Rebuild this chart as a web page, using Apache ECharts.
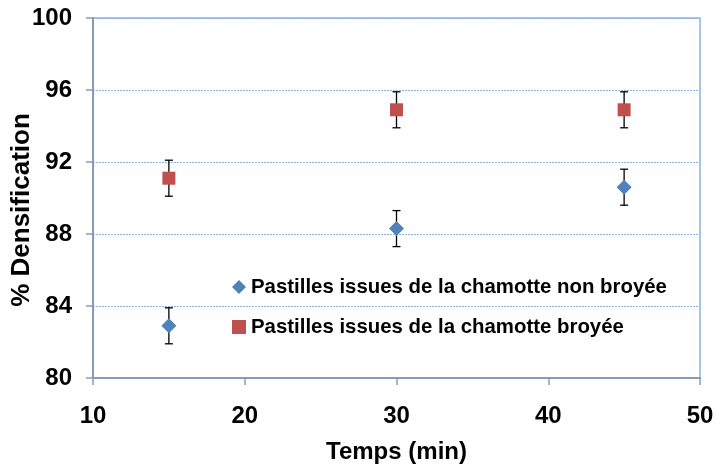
<!DOCTYPE html>
<html>
<head>
<meta charset="utf-8">
<script src="https://cdn.jsdelivr.net/npm/echarts@6/dist/echarts.min.js"></script>
<style>
  html, body { margin: 0; padding: 0; background: #fff; }
  #chart { width: 716px; height: 466px; }
</style>
</head>
<body>
<div id="chart"></div>
<script>
// temps de frittage (min)
var temps = [15, 30, 45];
// densification (%) et barres d'erreur
var nonBroyee = [82.9, 88.3, 90.6];
var nonBroyeeErr = [1.0, 1.0, 1.0];
var broyee = [91.1, 94.9, 94.9];
var broyeeErr = [1.0, 1.0, 1.0];

var serieNonBroyee = 'Pastilles issues de la chamotte non broyée';
var serieBroyee = 'Pastilles issues de la chamotte broyée';

function pairs(xs, ys) {
    return xs.map(function (x, i) { return [x, ys[i]]; });
}
function errData(xs, ys, errs) {
    return xs.map(function (x, i) { return [x, ys[i] - errs[i], ys[i] + errs[i]]; });
}

function renderErr(params, api) {
    var lo = api.coord([api.value(0), api.value(1)]);
    var hi = api.coord([api.value(0), api.value(2)]);
    var w = 4;
    var style = { stroke: '#000', lineWidth: 1.3 };
    return {
        type: 'group',
        children: [
            { type: 'line', shape: { x1: lo[0], y1: lo[1], x2: hi[0], y2: hi[1] }, style: style },
            { type: 'line', shape: { x1: lo[0] - w, y1: lo[1], x2: lo[0] + w, y2: lo[1] }, style: style },
            { type: 'line', shape: { x1: hi[0] - w, y1: hi[1], x2: hi[0] + w, y2: hi[1] }, style: style }
        ]
    };
}

var dom = document.getElementById('chart');
var myChart = echarts.init(dom);
var font = 'Liberation Sans, Arial, sans-serif';

myChart.setOption({
    animation: false,
    grid: {
        left: 93,
        right: 16,
        top: 18,
        bottom: 88,
        outerBoundsMode: 'none',
        containLabel: false,
        show: true,
        borderColor: '#8db3e2',
        borderWidth: 1.5
    },
    legend: {
        orient: 'vertical',
        left: 227,
        top: 272,
        itemGap: 20,
        itemWidth: 14,
        itemHeight: 14,
        textStyle: { fontFamily: font, fontWeight: 'bold', fontSize: 20.4, color: '#000' },
        data: [serieNonBroyee, serieBroyee]
    },
    xAxis: {
        type: 'value',
        min: 10,
        max: 50,
        interval: 10,
        name: 'Temps (min)',
        nameLocation: 'middle',
        nameGap: 62,
        nameMoveOverlap: false,
        nameTextStyle: { fontFamily: font, fontWeight: 'bold', fontSize: 24, color: '#000' },
        axisLine: { show: true, lineStyle: { color: '#8a9ab5', width: 2 } },
        axisTick: { show: true, length: 7, lineStyle: { color: '#8a9ab5', width: 1.5 } },
        axisLabel: { margin: 26, fontFamily: font, fontWeight: 'bold', fontSize: 24, color: '#000' },
        splitLine: { show: false }
    },
    yAxis: {
        type: 'value',
        min: 80,
        max: 100,
        interval: 4,
        name: '% Densification',
        nameLocation: 'middle',
        nameGap: 58,
        nameMoveOverlap: false,
        nameTextStyle: { fontFamily: font, fontWeight: 'bold', fontSize: 26, color: '#000', padding: [0, 24, 0, 0] },
        axisLine: { show: true, lineStyle: { color: '#8a9ab5', width: 2 } },
        axisTick: { show: true, length: 7, lineStyle: { color: '#8a9ab5', width: 1.5 } },
        axisLabel: { margin: 21, fontFamily: font, fontWeight: 'bold', fontSize: 24, color: '#000' },
        splitLine: { show: true, lineStyle: { color: '#8fb2e0', type: [2, 1], width: 1 } }
    },
    series: [
        {
            name: serieNonBroyee,
            type: 'scatter',
            symbol: 'diamond',
            symbolSize: 15,
            itemStyle: { color: '#4f81bd', opacity: 1 },
            data: pairs(temps, nonBroyee),
            z: 3
        },
        {
            name: serieBroyee,
            type: 'scatter',
            symbol: 'rect',
            symbolSize: 13,
            itemStyle: { color: '#c0504d', opacity: 1 },
            data: pairs(temps, broyee),
            z: 3
        },
        {
            type: 'custom',
            renderItem: renderErr,
            data: errData(temps, nonBroyee, nonBroyeeErr),
            encode: { x: 0, y: [1, 2] },
            z: 2,
            silent: true
        },
        {
            type: 'custom',
            renderItem: renderErr,
            data: errData(temps, broyee, broyeeErr),
            encode: { x: 0, y: [1, 2] },
            z: 2,
            silent: true
        }
    ]
});
window.addEventListener('resize', function () {
    myChart.resize();
});
</script>
</body>
</html>
